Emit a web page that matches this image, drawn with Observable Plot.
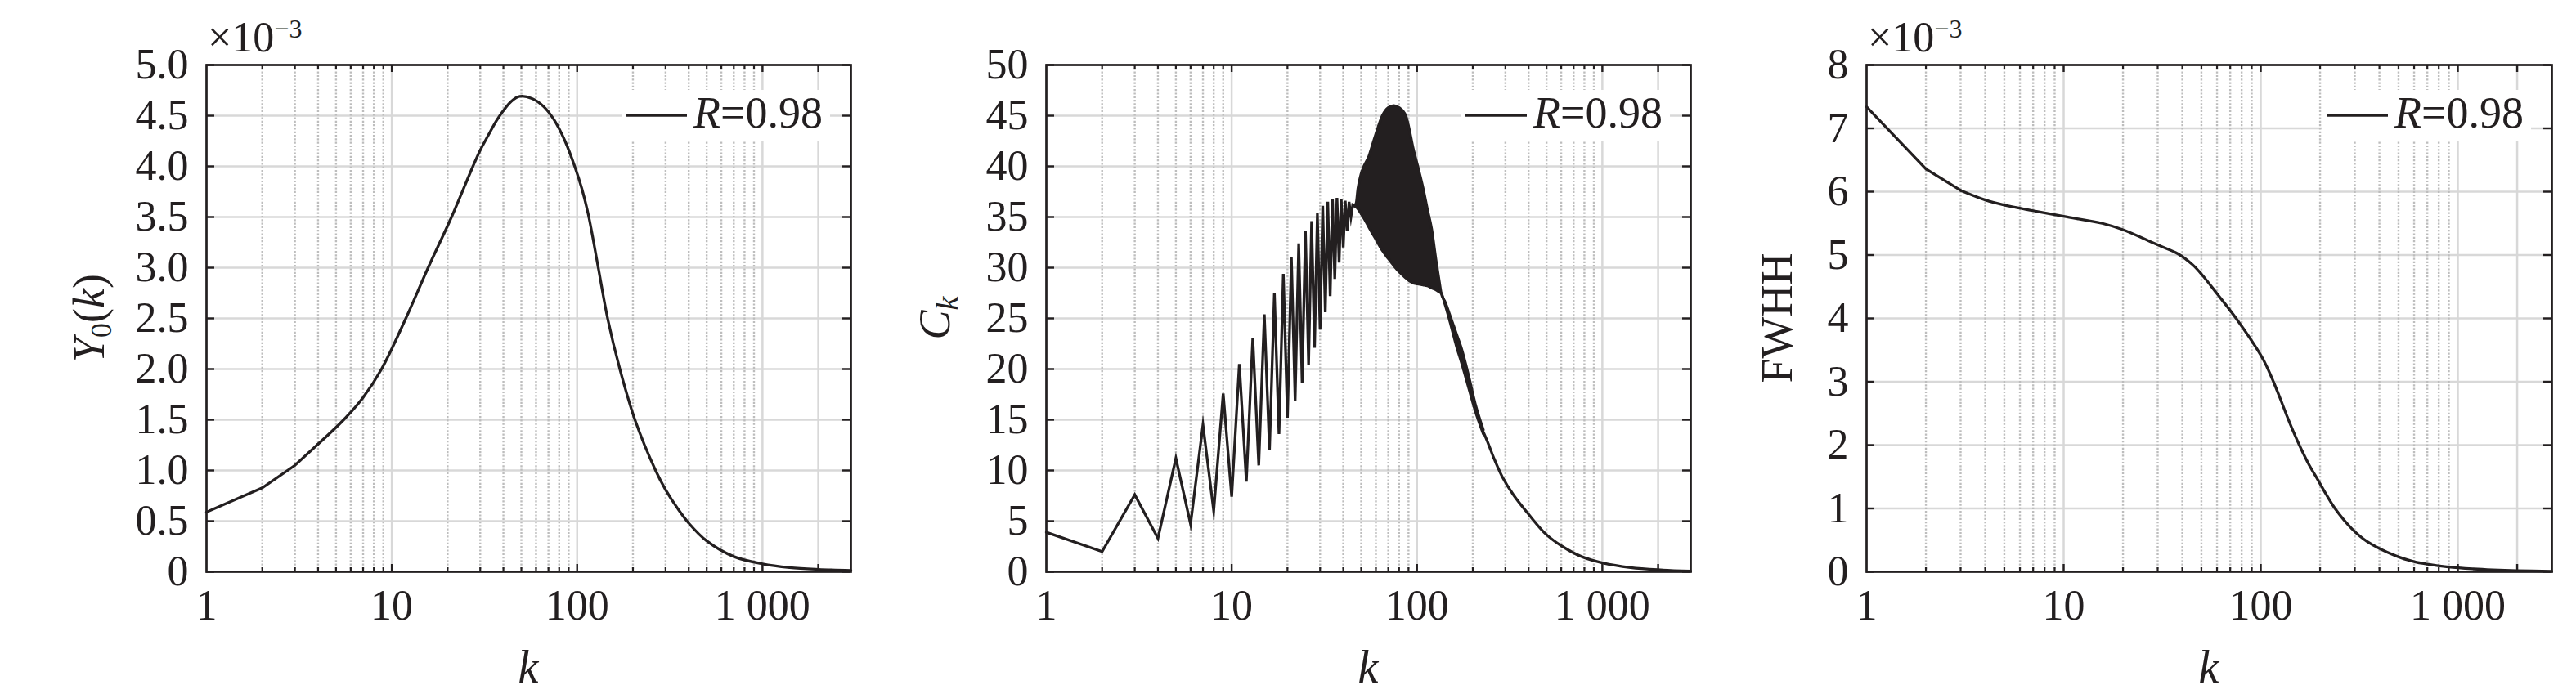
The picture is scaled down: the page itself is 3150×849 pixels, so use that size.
<!DOCTYPE html>
<html><head><meta charset="utf-8">
<script src="https://cdn.jsdelivr.net/npm/d3@7"></script>
<script src="https://cdn.jsdelivr.net/npm/@observablehq/plot@0.6"></script>
<style>
html,body{margin:0;padding:0;background:#fff;}
#wrap{position:relative;width:3150px;height:849px;overflow:hidden;}
#wrap svg{position:absolute;top:0;}
</style></head><body><div id="wrap"></div>
<script>
// ---------------- data ----------------
// Panel 1: Y0(k), values in units of 1e-3
const y0K = [1, 2, 3, 4, 5.5, 7, 8.8, 11.9, 15.7, 21, 27.4, 30, 33, 36.7, 40, 44, 49, 57, 66, 75, 86, 97, 106, 115, 130, 146, 170, 205, 265, 300, 350, 400, 500, 700, 1000, 1400, 2000, 3000];
const y0V = [0.589, 0.828, 1.05, 1.26, 1.5, 1.72, 2.0, 2.5, 3.0, 3.5, 4.0, 4.16, 4.3, 4.45, 4.55, 4.64, 4.69, 4.67, 4.59, 4.46, 4.25, 4.0, 3.78, 3.52, 3.0, 2.5, 2.0, 1.5, 1.0, 0.81, 0.62, 0.48, 0.305, 0.15, 0.078, 0.042, 0.024, 0.013];

// Panel 2: C_k — individual zigzag values for k = 1..46
const ckZigK = [1,2,3,4,5,6,7,8,9,10,11,12,13,14,15,16,17,18,19,20,21,22,23,24,25,26,27,28,29,30,31,32,33,34,35,36,37,38,39,40,41,42,43,44,45,46];
const ckZigV = [3.9,2.0,7.6,3.3,11.2,4.7,14.5,6.0,17.6,7.4,20.5,8.9,23.1,10.5,25.4,12.0,27.5,13.6,29.4,15.2,31.0,16.9,32.4,18.6,33.6,20.4,34.6,22.1,35.4,23.9,36.1,25.6,36.5,27.2,36.8,28.9,36.9,30.5,36.8,32.0,36.6,33.6,36.5,35.0,36.2,36.1];
// dense oscillation region: upper / lower envelope
const ckBandK     = [46, 47, 48, 50, 52, 55, 57, 60, 65, 70, 75, 80, 87, 91, 95, 101, 108, 114, 120, 127, 132, 135, 142, 152, 163, 174, 189, 206, 228];
const ckBandUpper = [36.1, 36.4, 37.8, 39.3, 40.1, 41.0, 41.9, 43.2, 45.0, 45.8, 46.0, 45.8, 45.0, 43.6, 41.9, 40.0, 37.8, 35.7, 33.8, 30.6, 28.6, 27.5, 26.6, 25.1, 23.5, 22.0, 19.5, 16.6, 14.0];
const ckBandLower = [36.1, 36.0, 35.8, 35.3, 34.8, 34.0, 33.5, 32.8, 31.7, 30.9, 30.2, 29.6, 29.0, 28.7, 28.5, 28.4, 28.3, 28.2, 28.0, 27.8, 27.6, 27.5, 26.3, 24.4, 22.3, 20.6, 18.3, 15.9, 13.6];
// tail
const ckTailK = [228, 243, 260, 288, 331, 399, 497, 609, 772, 1012, 1419, 1994, 3000];
const ckTailV = [13.8, 12.6, 11.2, 9.4, 7.6, 5.7, 3.7, 2.5, 1.5, 0.86, 0.42, 0.2, 0.07];

// Panel 3: FWHH, values in units of 1e-3
const fwK = [1, 2, 3, 4, 5, 7, 10, 15.7, 20, 30, 38, 45, 50, 60, 75, 100, 108, 116, 125, 135, 146, 158, 175, 195, 215, 238, 290, 346, 486, 600, 700, 896, 1200, 1500, 2000, 3000];
const fwV = [7.34, 6.36, 6.02, 5.87, 5.79, 5.70, 5.61, 5.5, 5.40, 5.16, 5.02, 4.85, 4.7, 4.39, 4.0, 3.42, 3.22, 3.0, 2.75, 2.48, 2.22, 1.98, 1.7, 1.45, 1.22, 1.0, 0.68, 0.48, 0.25, 0.16, 0.12, 0.075, 0.045, 0.03, 0.018, 0.008];

// axes
const xTickValues = [1, 10, 100, 1000];
const xTickLabels = ["1", "10", "100", "1 000"];
const xMinor = [2,3,4,5,6,7,8,9,20,30,40,50,60,70,80,90,200,300,400,500,600,700,800,900];
const xMajorGrid = [10, 100, 1000, 2000];

const y1Ticks = [0,0.5,1,1.5,2,2.5,3,3.5,4,4.5,5];
const y1Labels = ["0","0.5","1.0","1.5","2.0","2.5","3.0","3.5","4.0","4.5","5.0"];
const y2Ticks = [0,5,10,15,20,25,30,35,40,45,50];
const y2Labels = ["0","5","10","15","20","25","30","35","40","45","50"];
const y3Ticks = [0,1,2,3,4,5,6,7,8];
const y3Labels = ["0","1","2","3","4","5","6","7","8"];

const legendLabel = "0.98";
const expLabel = "−3";

// ---------------- drawing ----------------
const INK = "#231f20";
const FONT = "Liberation Serif, serif";
const W = 1050, H = 849, MT = 79, MB = 150;

const pairs = (ks, vs) => ks.map((k, i) => ({k, v: vs[i]}));

function makePanel(cfg) {
  const {ml, mr} = cfg;
  const iw = W - ml - mr, ih = H - MT - MB;
  const lineStyle = {stroke: INK, strokeWidth: 3.3, strokeLinejoin: "miter", strokeMiterlimit: 10};
  const marks = [
    Plot.ruleY(cfg.yTicks.slice(1, -1), {y: d => d, stroke: "#d8d8d8", strokeWidth: 2.5}),
    Plot.ruleX(xMinor, {x: d => d, stroke: "#bdbdbd", strokeWidth: 2.4, strokeDasharray: "2.2,2.1"}),
    Plot.ruleX(xMajorGrid, {x: d => d, stroke: "#d8d8d8", strokeWidth: 2.5}),
    ...cfg.dataMarks(lineStyle),
    Plot.frame({stroke: INK, strokeWidth: 2.7}),
    Plot.tickX(xMinor, {x: d => d, insetTop: ih - 5, stroke: INK, strokeWidth: 2.2}),
    Plot.tickX(xMinor, {x: d => d, insetBottom: ih - 5, stroke: INK, strokeWidth: 2.2}),
    Plot.tickX(xMajorGrid, {x: d => d, insetTop: ih - 9, stroke: INK, strokeWidth: 2.4}),
    Plot.tickX(xMajorGrid, {x: d => d, insetBottom: ih - 9, stroke: INK, strokeWidth: 2.4}),
    Plot.tickY(cfg.yTicks, {y: d => d, insetRight: iw - 10, stroke: INK, strokeWidth: 2.4}),
    Plot.tickY(cfg.yTicks, {y: d => d, insetLeft: iw - 10, stroke: INK, strokeWidth: 2.4}),
    Plot.axisX(xTickValues, {anchor: "bottom", tickSize: 0, tickPadding: 22, label: null,
      tickFormat: d => xTickLabels[xTickValues.indexOf(d)], fontSize: 52, fontFamily: FONT, fill: INK}),
    Plot.axisY(cfg.yTicks, {anchor: "left", tickSize: 0, tickPadding: 22, label: null,
      tickFormat: d => cfg.yLabels[cfg.yTicks.indexOf(d)], fontSize: 52, fontFamily: FONT, fill: INK})
  ];
  const svg = Plot.plot({
    width: W, height: H,
    marginLeft: ml, marginRight: mr, marginTop: MT, marginBottom: MB,
    x: {type: "log", domain: [1, 3000]},
    y: {domain: [cfg.yTicks[0], cfg.yTicks[cfg.yTicks.length - 1]]},
    style: {fontFamily: FONT, color: INK, background: "#fff", overflow: "visible"},
    marks
  });
  svg.style.left = cfg.left + "px";
  const s = d3.select(svg);
  const R = W - mr;
  const g = s.append("g").attr("font-family", FONT).attr("fill", INK).attr("text-anchor", "start");
  // legend
  g.append("rect").attr("x", R - 280).attr("y", 110).attr("width", 255).attr("height", 62).attr("fill", "#fff");
  g.append("line").attr("x1", R - 275).attr("x2", R - 200).attr("y1", 141).attr("y2", 141)
    .attr("stroke", INK).attr("stroke-width", 3.3);
  const lt = g.append("text").attr("x", R - 192).attr("y", 156).attr("font-size", 54).attr("text-anchor", "start");
  lt.append("tspan").attr("font-style", "italic").text("R");
  lt.append("tspan").text("=" + legendLabel);
  // exponent
  if (cfg.exp) {
    const e = g.append("text").attr("x", ml + 2).attr("y", 63).attr("font-size", 52).attr("text-anchor", "start");
    e.append("tspan").text("×10");
    e.append("tspan").attr("dy", -17).attr("font-size", 32).text(expLabel);
  }
  // x label
  g.append("text").attr("x", ml + iw / 2).attr("y", 835).attr("text-anchor", "middle")
    .attr("font-size", 56).attr("font-style", "italic").text("k");
  // y label
  const yl = g.append("text").attr("transform", `translate(${cfg.ylx},389) rotate(-90)`)
    .attr("text-anchor", "middle").attr("font-size", 54);
  cfg.yTitle(yl);
  document.getElementById("wrap").appendChild(svg);
}

makePanel({
  left: 0, ml: 252, mr: 10, ylx: 127, exp: true,
  yTicks: y1Ticks, yLabels: y1Labels,
  dataMarks: st => {
    const d = pairs(y0K, y0V);
    return [
      Plot.line(d.filter(p => p.k <= 4), {x: "k", y: "v", curve: "linear", ...st}),
      Plot.line(d.filter(p => p.k >= 4), {x: "k", y: "v", curve: "catmull-rom", ...st})
    ];
  },
  yTitle: t => {
    t.append("tspan").attr("font-style", "italic").text("Y");
    t.append("tspan").attr("font-size", 36).attr("dy", 9).text("0");
    t.append("tspan").attr("dy", -9).text("(");
    t.append("tspan").attr("font-style", "italic").text("k");
    t.append("tspan").text(")");
  }
});

makePanel({
  left: 1050, ml: 229, mr: 33, ylx: 111, exp: false,
  yTicks: y2Ticks, yLabels: y2Labels,
  dataMarks: st => {
    const band = ckBandK.map((k, i) => ({k, lo: ckBandLower[i], hi: ckBandUpper[i]}));
    return [
      Plot.line(pairs(ckZigK, ckZigV), {x: "k", y: "v", curve: "linear", ...st}),
      Plot.areaY(band, {x: "k", y1: "lo", y2: "hi", curve: "monotone-x", fill: INK}),
      Plot.line(band, {x: "k", y: "hi", curve: "monotone-x", ...st}),
      Plot.line(band, {x: "k", y: "lo", curve: "monotone-x", ...st}),
      Plot.line(pairs(ckTailK, ckTailV), {x: "k", y: "v", curve: "catmull-rom", ...st})
    ];
  },
  yTitle: t => {
    t.append("tspan").attr("font-style", "italic").text("C");
    t.append("tspan").attr("font-style", "italic").attr("font-size", 38).attr("dy", 10).text("k");
  }
});

makePanel({
  left: 2100, ml: 182, mr: 30, ylx: 91, exp: true,
  yTicks: y3Ticks, yLabels: y3Labels,
  dataMarks: st => {
    const d = pairs(fwK, fwV);
    return [
      Plot.line(d.filter(p => p.k <= 3), {x: "k", y: "v", curve: "linear", ...st}),
      Plot.line(d.filter(p => p.k >= 3), {x: "k", y: "v", curve: "catmull-rom", ...st})
    ];
  },
  yTitle: t => { t.text("FWHH"); }
});
</script></body></html>
